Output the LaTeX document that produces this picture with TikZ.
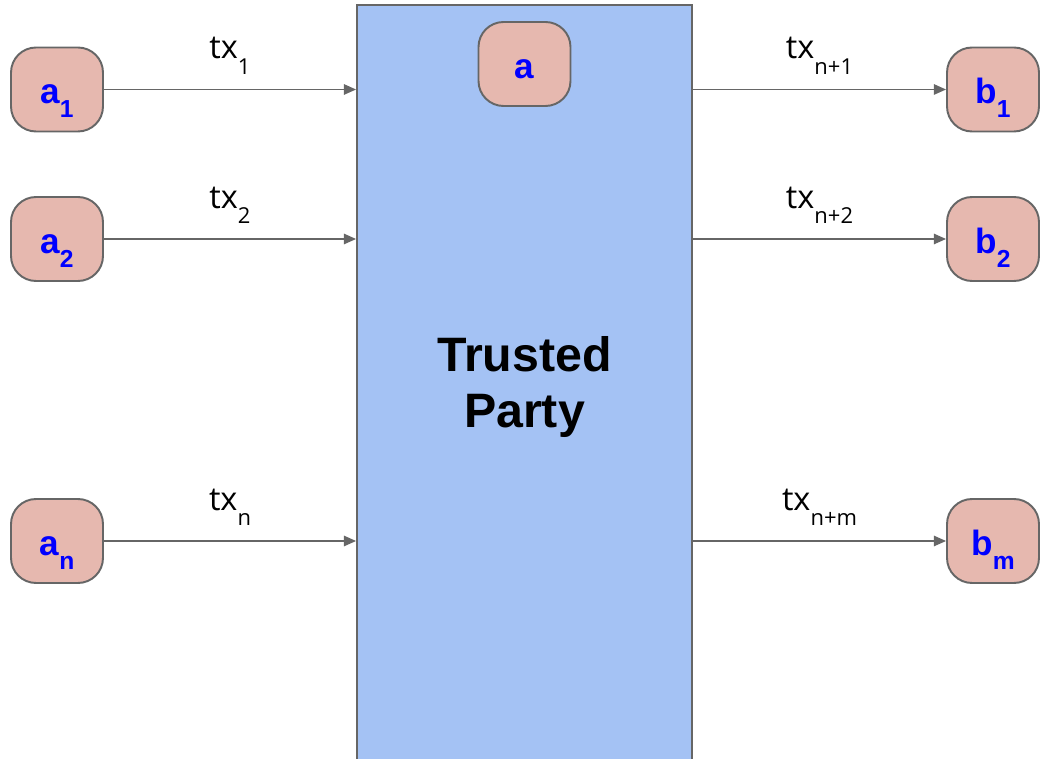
\documentclass[tikz,border=0pt]{standalone}
\usepackage{fontspec}
\setmainfont{Liberation Sans}
\newfontfamily\txfont{Open Sans}
\usepackage{tikz}
\usetikzlibrary{positioning}
\usetikzlibrary{arrows.meta}

\definecolor{partyfill}{HTML}{E6B8AF}
\definecolor{trustfill}{HTML}{A4C2F4}
\definecolor{edgegray}{HTML}{666666}
\definecolor{nameblue}{HTML}{0000FF}

% lowered index, as the drawing prints it
\newcommand{\idx}[3]{\raisebox{-#1}{\fontsize{#2}{#2}\selectfont #3}}

\begin{document}
\begin{tikzpicture}[x=0.02cm, y=-0.02cm,
    party/.style={draw=edgegray, line width=1.1pt, fill=partyfill, rounded corners=0.5cm,
        minimum width=1.84cm, minimum height=1.68cm, inner sep=0pt,
        text=nameblue, font=\fontsize{20}{20}\selectfont\bfseries,
        text height=16pt, text depth=0pt},
    trusted/.style={draw=edgegray, line width=1.1pt, fill=trustfill,
        minimum width=6.7cm, minimum height=15.4cm, inner sep=0pt},
    flow/.style={draw=edgegray, line width=0.85pt, -{Triangle[length=7pt,width=6pt]}},
    txlabel/.style={midway, anchor=base, yshift=0.62cm, inner sep=0pt,
        font=\txfont\fontsize{18.5}{18.5}\selectfont}
]
    \useasboundingbox (0,0) rectangle (1041,759);

    \node[trusted] (tp) at (524.5,390) {};
    \node[align=center, font=\fontsize{27.5}{32}\selectfont\bfseries] (tplabel) at (524.5,387) {Trusted\\Party};
    \node[party] (a) at (524.5,64) {a};

    \node[party] (a1) at (57,89.5) {a\idx{8pt}{14}{1}};
    \node[party] (a2) at (57,239) {a\idx{8pt}{14}{2}};
    \node[party] (an) at (57,541) {a\idx{8pt}{14}{n}};

    \node[party] (b1) at (993,89.5) {b\idx{8pt}{14}{1}};
    \node[party] (b2) at (993,239) {b\idx{8pt}{14}{2}};
    \node[party] (bm) at (993,541) {b\idx{8pt}{14}{m}};

    \draw[flow] (a1.east) -- (a1.east -| tp.west) node[txlabel] (tx1) {tx\idx{9pt}{12.5}{1}};
    \draw[flow] (a2.east) -- (a2.east -| tp.west) node[txlabel] (tx2) {tx\idx{9pt}{12.5}{2}};
    \draw[flow] (an.east) -- (an.east -| tp.west) node[txlabel] (txn) {tx\idx{9pt}{12.5}{n}};

    \draw[flow] (b1.west -| tp.east) -- (b1.west) node[txlabel] (txn1) {tx\idx{9pt}{12.5}{n+1}};
    \draw[flow] (b2.west -| tp.east) -- (b2.west) node[txlabel] (txn2) {tx\idx{9pt}{12.5}{n+2}};
    \draw[flow] (bm.west -| tp.east) -- (bm.west) node[txlabel] (txnm) {tx\idx{9pt}{12.5}{n+m}};
\end{tikzpicture}
\end{document}
